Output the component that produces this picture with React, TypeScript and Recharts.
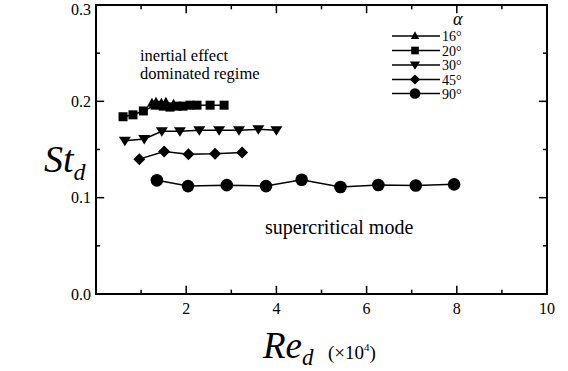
import React from 'react';
import { ComposedChart, Line, XAxis, YAxis, ReferenceLine, ReferenceArea } from 'recharts';

// alpha = 16°
const re16 = [1.24, 1.33, 1.45, 1.55, 1.72];
const st16 = [0.198, 0.199, 0.198, 0.199, 0.197];
// alpha = 20°
const re20 = [0.6, 0.82, 1.05, 1.31, 1.49, 1.64, 1.8, 1.93, 2.08, 2.24, 2.53, 2.84];
const st20 = [0.184, 0.186, 0.19, 0.196, 0.195, 0.194, 0.195, 0.195, 0.196, 0.196, 0.196, 0.196];
// alpha = 30°
const re30 = [0.64, 1.07, 1.46, 1.86, 2.29, 2.73, 3.17, 3.6, 4.0];
const st30 = [0.159, 0.161, 0.169, 0.169, 0.17, 0.17, 0.17, 0.171, 0.17];
// alpha = 45°
const re45 = [0.96, 1.51, 2.05, 2.64, 3.24];
const st45 = [0.14, 0.148, 0.145, 0.1455, 0.147];
// alpha = 90°
const re90 = [1.35, 2.04, 2.9, 3.77, 4.56, 5.42, 6.26, 7.09, 7.94];
const st90 = [0.118, 0.112, 0.113, 0.112, 0.1186, 0.111, 0.1131, 0.1127, 0.1138];

const seriesNames = ['16°', '20°', '30°', '45°', '90°'];
const xTicks = [0, 2, 4, 6, 8, 10];
const xMinor = [1, 3, 5, 7, 9];
const yTicks = [0, 0.1, 0.2, 0.3];
const yMinor = [0.05, 0.15, 0.25];

const toPts = (xs: number[], ys: number[]) => xs.map((x, i) => ({ x, y: ys[i] }));

type Kind = 'up' | 'square' | 'down' | 'diamond' | 'circle';
const kinds: Kind[] = ['up', 'square', 'down', 'diamond', 'circle'];

function Marker({ cx, cy, kind, s = 1 }: { cx: number; cy: number; kind: Kind; s?: number }) {
  if (cx == null || cy == null) return null;
  switch (kind) {
    case 'up':
      return <polygon points={`${cx},${cy - 5.5 * s} ${cx - 5 * s},${cy + 3.5 * s} ${cx + 5 * s},${cy + 3.5 * s}`} fill="#000" />;
    case 'square':
      return <rect x={cx - 4.5 * s} y={cy - 4.5 * s} width={9 * s} height={9 * s} fill="#000" />;
    case 'down':
      return <polygon points={`${cx - 6 * s},${cy - 4 * s} ${cx + 6 * s},${cy - 4 * s} ${cx},${cy + 5.5 * s}`} fill="#000" />;
    case 'diamond':
      return <polygon points={`${cx},${cy - 6 * s} ${cx + 6 * s},${cy} ${cx},${cy + 6 * s} ${cx - 6 * s},${cy}`} fill="#000" />;
    default:
      return <circle cx={cx} cy={cy} r={6.3 * s} fill="#000" />;
  }
}

const series = [
  { name: seriesNames[0], data: toPts(re16, st16), kind: kinds[0] },
  { name: seriesNames[1], data: toPts(re20, st20), kind: kinds[1] },
  { name: seriesNames[2], data: toPts(re30, st30), kind: kinds[2] },
  { name: seriesNames[3], data: toPts(re45, st45), kind: kinds[3] },
  { name: seriesNames[4], data: toPts(re90, st90), kind: kinds[4] },
];

const FONT = "'Liberation Serif', 'Times New Roman', 'DejaVu Serif', serif";

const xMajorLen = 0.18, xMinorLen = 0.09; // in x units (for y-axis ticks)
const yMajorLen = 0.0085, yMinorLen = 0.0045; // in y units (for x-axis ticks)

function LegendBox() {
  const rows = [36, 50.5, 65, 79.5, 93.5];
  return (
    <g transform="translate(385,0)">
      <text x={68} y={25} fontFamily={FONT} fontStyle="italic" fontSize={18} fill="#000">α</text>
      {series.map((s, i) => (
        <g key={s.name}>
          <line x1={7} x2={55} y1={rows[i]} y2={rows[i]} stroke="#000" strokeWidth={1.5} />
          <Marker cx={30} cy={rows[i]} kind={s.kind} s={0.85} />
          <text x={57} y={rows[i] + 5} fontFamily={FONT} fontSize={14} fill="#000">{s.name}</text>
        </g>
      ))}
    </g>
  );
}

export default function App() {
  return (
    <div style={{ position: 'absolute', left: 0, top: 0, width: 568, height: 371, background: '#fff', fontFamily: FONT }}>
      <ComposedChart width={568} height={371} margin={{ top: 5, right: 21, bottom: 47, left: 36 }} style={{ fontFamily: FONT }}>
        <XAxis
          type="number"
          dataKey="x"
          domain={[0, 10]}
          ticks={xTicks}
          height={30}
          tickFormatter={(v: number) => (v === 0 ? '' : String(v))}
          tickLine={false}
          tickSize={0}
          tickMargin={9}
          axisLine={{ stroke: '#000', strokeWidth: 2 }}
          tick={{ fill: '#000', fontSize: 16, fontFamily: FONT }}
          allowDataOverflow
        />
        <YAxis
          type="number"
          dataKey="y"
          domain={[0, 0.3]}
          ticks={yTicks}
          tickFormatter={(v: number) => v.toFixed(1)}
          tickLine={false}
          tickSize={0}
          tickMargin={5}
          width={60}
          axisLine={{ stroke: '#000', strokeWidth: 2 }}
          tick={{ fill: '#000', fontSize: 16, fontFamily: FONT }}
          allowDataOverflow
        />
        <ReferenceArea x1={0} x2={10} y1={0} y2={0.3} fill="none" stroke="#000" strokeWidth={2} ifOverflow="visible" />
        {xTicks.filter(t => t > 0 && t < 10).map(t => (
          <ReferenceLine key={'xb' + t} segment={[{ x: t, y: 0 }, { x: t, y: yMajorLen }]} stroke="#000" strokeWidth={1.5} />
        ))}
        {xTicks.filter(t => t > 0 && t < 10).map(t => (
          <ReferenceLine key={'xt' + t} segment={[{ x: t, y: 0.3 }, { x: t, y: 0.3 - yMajorLen }]} stroke="#000" strokeWidth={1.5} />
        ))}
        {xMinor.map(t => (
          <ReferenceLine key={'xbm' + t} segment={[{ x: t, y: 0 }, { x: t, y: yMinorLen }]} stroke="#000" strokeWidth={1.5} />
        ))}
        {xMinor.map(t => (
          <ReferenceLine key={'xtm' + t} segment={[{ x: t, y: 0.3 }, { x: t, y: 0.3 - yMinorLen }]} stroke="#000" strokeWidth={1.5} />
        ))}
        {yTicks.filter(t => t > 0 && t < 0.3).map(t => (
          <ReferenceLine key={'yl' + t} segment={[{ x: 0, y: t }, { x: xMajorLen, y: t }]} stroke="#000" strokeWidth={1.5} />
        ))}
        {yTicks.filter(t => t > 0 && t < 0.3).map(t => (
          <ReferenceLine key={'yr' + t} segment={[{ x: 10, y: t }, { x: 10 - xMajorLen, y: t }]} stroke="#000" strokeWidth={1.5} />
        ))}
        {yMinor.map(t => (
          <ReferenceLine key={'ylm' + t} segment={[{ x: 0, y: t }, { x: xMinorLen, y: t }]} stroke="#000" strokeWidth={1.5} />
        ))}
        {yMinor.map(t => (
          <ReferenceLine key={'yrm' + t} segment={[{ x: 10, y: t }, { x: 10 - xMinorLen, y: t }]} stroke="#000" strokeWidth={1.5} />
        ))}
        {series.map(s => (
          <Line
            key={s.name}
            name={s.name}
            data={s.data}
            dataKey="y"
            type="linear"
            stroke="#000"
            strokeWidth={1.5}
            isAnimationActive={false}
            dot={(p: any) => <Marker key={`${s.name}-${p.index}`} cx={p.cx} cy={p.cy} kind={s.kind} />}
            activeDot={false}
          />
        ))}
      </ComposedChart>
      <svg width={568} height={371} style={{ position: 'absolute', left: 0, top: 0, pointerEvents: 'none' }}>
        <LegendBox />
        <text x={140} y={61} fontFamily={FONT} fontSize={16.5} fill="#000">inertial effect</text>
        <text x={140} y={79} fontFamily={FONT} fontSize={16.5} fill="#000">dominated regime</text>
        <text x={265} y={234} fontFamily={FONT} fontSize={20} fill="#000">supercritical mode</text>
        <text x={44} y={172} fontFamily={FONT} fontStyle="italic" fontSize={38} fill="#000">
          St<tspan dy={8} fontSize={24}>d</tspan>
        </text>
        <text x={263} y={358} fontFamily={FONT} fontStyle="italic" fontSize={37} fill="#000">
          Re<tspan dy={7} fontSize={23}>d</tspan>
        </text>
        <text x={328} y={359} fontFamily={FONT} fontSize={19} fill="#000">
          (×10<tspan dy={-8} fontSize={11}>4</tspan><tspan dy={8}>)</tspan>
        </text>
      </svg>
    </div>
  );
}
